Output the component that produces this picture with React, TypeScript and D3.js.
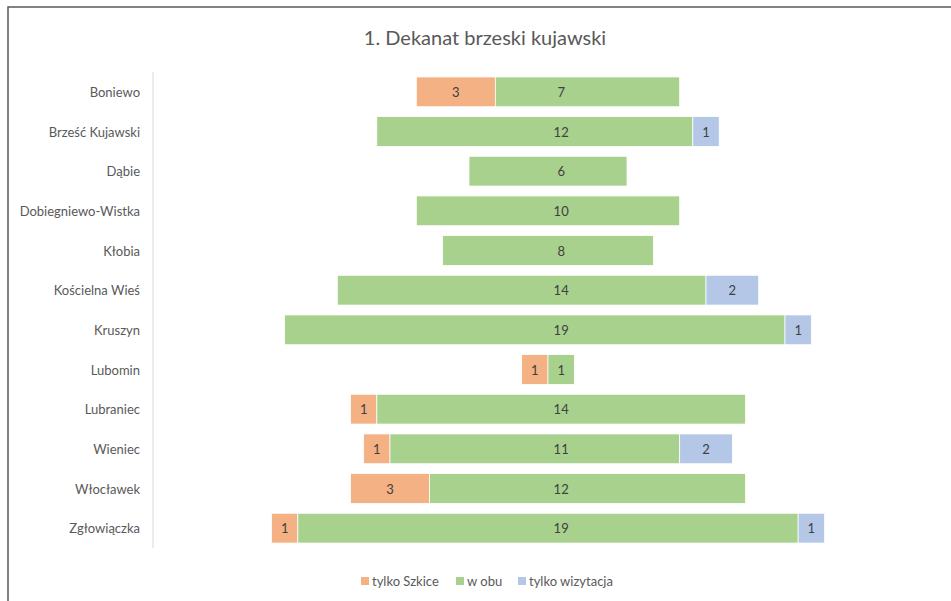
import React from 'react'
import * as d3 from 'd3'

const parishes = [
  'Boniewo', 'Brześć Kujawski', 'Dąbie', 'Dobiegniewo-Wistka', 'Kłobia', 'Kościelna Wieś',
  'Kruszyn', 'Lubomin', 'Lubraniec', 'Wieniec', 'Włocławek', 'Zgłowiączka',
]
const szkice = [3, 0, 0, 0, 0, 0, 0, 1, 1, 1, 3, 1]
const obu = [7, 12, 6, 10, 8, 14, 19, 1, 14, 11, 12, 19]
const wizytacja = [0, 1, 0, 0, 0, 2, 1, 0, 0, 2, 0, 1]

const seriesNames = ['tylko Szkice', 'w obu', 'tylko wizytacja']
const seriesColors = ['#F4B183', '#A9D18E', '#B4C7E7']

const W = 951
const H = 601
const font = 'Lato, "Liberation Sans", sans-serif'

const App = () => {
  const x = d3.scaleLinear().domain([0, 30]).range([153, 943])
  const y = d3.scaleBand<string>().domain(parishes).range([72, 548]).paddingInner(0.25).paddingOuter(0.125)

  const rows = parishes.map((p, i) => {
    const vals = [szkice[i], obu[i], wizytacja[i]]
    const total = d3.sum(vals)
    let start = (30 - total) / 2
    const segs = vals.map((v, k) => {
      const s = { k, v, x0: start, x1: start + v }
      start += v
      return s
    })
    return { p, segs }
  })

  // the "w obu" labels sit at a fixed spot, just right of the middle
  const labelX = (s: { k: number; x0: number; x1: number }) =>
    s.k === 1 ? x(15.5) : (x(s.x0) + x(s.x1)) / 2

  const legendX = [361, 456, 518]

  return (
    <svg width={W} height={H} style={{ position: 'absolute', left: 0, top: 0, fontFamily: font }}>
      <rect x={0} y={0} width={W} height={H} fill="#fff" />
      <rect x={8} y={7} width={W + 10} height={H + 10} fill="none" stroke="#595959" strokeWidth={1.5} />
      <text x={485} y={45} textAnchor="middle" fontSize={20} fill="#595959">1. Dekanat brzeski kujawski</text>
      <line x1={153} x2={153} y1={72} y2={548} stroke="#d9d9d9" strokeWidth={1} />
      {rows.map(r => (
        <g key={r.p}>
          <text x={140} y={y(r.p)! + y.bandwidth() / 2} textAnchor="end" dominantBaseline="central" fontSize={13} fill="#595959">{r.p}</text>
          {r.segs.filter(s => s.v > 0).map(s => (
            <g key={s.k}>
              <rect x={x(s.x0)} y={y(r.p)} width={x(s.x1) - x(s.x0)} height={y.bandwidth()} fill={seriesColors[s.k]} stroke="#fff" strokeWidth={0.75} />
              <text x={labelX(s)} y={y(r.p)! + y.bandwidth() / 2} textAnchor="middle" dominantBaseline="central" fontSize={13} fill="#404040">{s.v}</text>
            </g>
          ))}
        </g>
      ))}
      {seriesNames.map((n, i) => (
        <g key={n}>
          <rect x={legendX[i]} y={577} width={8} height={8} fill={seriesColors[i]} />
          <text x={legendX[i] + 11} y={581} dominantBaseline="central" fontSize={13} fill="#595959">{n}</text>
        </g>
      ))}
    </svg>
  )
}

export default App
